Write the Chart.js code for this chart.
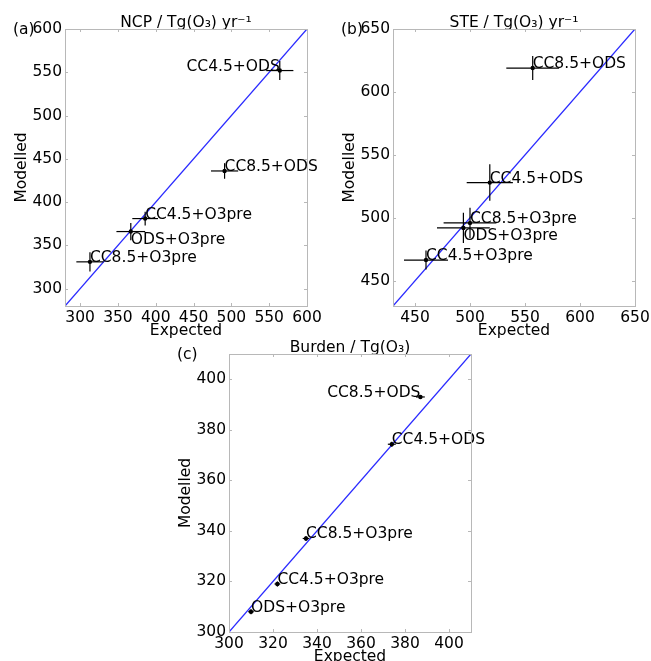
<!DOCTYPE html>
<html>
<head>
<meta charset="utf-8">
<script src="https://cdn.jsdelivr.net/npm/chart.js@4.4.1/dist/chart.umd.min.js"></script>
<style>
  body { margin: 0; background: #fff; overflow: hidden; }
  canvas { position: absolute; }
</style>
</head>
<body>
<canvas id="ncp" width="325" height="340" style="left:0;top:0"></canvas>
<canvas id="ste" width="325" height="340" style="left:328px;top:0"></canvas>
<canvas id="burden" width="325" height="341" style="left:164px;top:325px"></canvas>
<script>
const runs = ['CC4.5+ODS', 'CC8.5+ODS', 'CC4.5+O3pre', 'CC8.5+O3pre', 'ODS+O3pre'];

// (a) NCP
const ncpExpected = [564, 491, 386, 313, 367];
const ncpModelled = [552, 436, 381, 331, 366];
const ncpExpectedErr = [18, 18, 17, 18, 19];
const ncpModelledErr = [11, 9, 8, 11, 10];
const ncpTicks = [300, 350, 400, 450, 500, 550, 600];
const ncpRange = [280, 600];

// (b) STE
const steExpected = [518, 557, 460, 500, 494];
const steModelled = [528, 619, 466.5, 496, 492];
const steExpectedErr = [21, 24, 20, 24, 24];
const steModelledErr = [14.5, 9.5, 7.5, 12, 12];
const steTicks = [450, 500, 550, 600, 650];
const steRange = [430, 650];

// (c) Burden
const burdenExpected = [374, 387, 322, 335, 310];
const burdenModelled = [374.3, 393, 319, 337, 308];
const burdenExpectedErr = [1.8, 2, 1.3, 1.5, 1.3];
const burdenModelledErr = [1, 0.8, 1, 1, 1];
const burdenTicks = [300, 320, 340, 360, 380, 400];
const burdenRange = [300, 410];

// label side for each run: 'ne' right of point above it, 'nw' left of it, 'se' right and below
const ncpPlace = ['nw', 'ne', 'ne', 'ne', 'se'];
const stePlace = ['ne', 'ne', 'ne', 'ne', 'se'];
const burdenPlace = ['ne', 'nw', 'ne', 'ne', 'ne'];

Chart.defaults.font.family = '"DejaVu Sans", sans-serif';
Chart.defaults.font.size = 15.5;
Chart.defaults.color = '#000';

const FONT = '15.5px "DejaVu Sans"';
const SPINE = '#b8b8b8';

function errBar(points) {
  return { data: points, showLine: true, borderColor: '#000', borderWidth: 1.2, pointRadius: 0 };
}

function panel(id, tag, title, ex, mo, exErr, moErr, ticks, range, place) {
  const datasets = [{
    data: ex.map((x, i) => ({ x, y: mo[i] })),
    pointRadius: 2.2, pointBackgroundColor: '#000', pointBorderWidth: 0, showLine: false
  }];
  ex.forEach((x, i) => {
    datasets.push(errBar([{ x: x - exErr[i], y: mo[i] }, { x: x + exErr[i], y: mo[i] }]));
    datasets.push(errBar([{ x, y: mo[i] - moErr[i] }, { x, y: mo[i] + moErr[i] }]));
  });
  // 1:1 line
  datasets.push({
    data: [{ x: range[0], y: range[0] }, { x: range[1], y: range[1] }],
    showLine: true, borderColor: '#2a2aff', borderWidth: 1.3, pointRadius: 0
  });

  const setTicks = s => { s.ticks = ticks.map(v => ({ value: v })); };

  const frame = {
    id: 'frame',
    afterDatasetsDraw(chart) {
      const { ctx, scales } = chart;
      ctx.save();
      ctx.font = FONT;
      ctx.fillStyle = '#000';
      runs.forEach((name, i) => {
        const px = scales.x.getPixelForValue(ex[i]);
        const py = scales.y.getPixelForValue(mo[i]);
        const p = place[i];
        ctx.textAlign = p === 'nw' ? 'right' : 'left';
        ctx.textBaseline = 'alphabetic';
        ctx.fillText(name, px, p === 'se' ? py + 12.5 : py);
      });
      ctx.restore();
    },
    afterDraw(chart) {
      const { ctx, chartArea: a, scales } = chart;
      ctx.save();
      ctx.strokeStyle = SPINE;
      ctx.lineWidth = 1;
      ctx.strokeRect(a.left + 0.5, a.top + 0.5, a.right - a.left, a.bottom - a.top);
      ctx.beginPath();
      ticks.forEach(v => {
        const x = Math.round(scales.x.getPixelForValue(v)) + 0.5;
        const y = Math.round(scales.y.getPixelForValue(v)) + 0.5;
        ctx.moveTo(x, a.bottom); ctx.lineTo(x, a.bottom - 3);
        ctx.moveTo(x, a.top); ctx.lineTo(x, a.top + 3);
        ctx.moveTo(a.left, y); ctx.lineTo(a.left + 3, y);
        ctx.moveTo(a.right, y); ctx.lineTo(a.right - 3, y);
      });
      ctx.stroke();
      ctx.font = FONT;
      ctx.fillStyle = '#000';
      ctx.textAlign = 'left';
      ctx.textBaseline = 'middle';
      ctx.fillText(tag, a.left - 52, a.top + 1);
      ctx.restore();
    }
  };

  return new Chart(document.getElementById(id), {
    type: 'scatter',
    data: { datasets },
    plugins: [frame],
    options: {
      responsive: false,
      animation: false,
      events: [],
      layout: { padding: { left: 0, top: 0, right: 18, bottom: 0 } },
      plugins: { legend: { display: false }, tooltip: { enabled: false } },
      scales: {
        x: {
          type: 'linear', position: 'bottom', min: range[0], max: range[1],
          afterBuildTicks: setTicks,
          afterFit: s => { s.height = 34; },
          grid: { display: false, drawTicks: false },
          border: { display: false },
          ticks: { padding: 3, maxRotation: 0, autoSkip: false },
          title: { display: true, text: 'Expected', padding: { top: 0, bottom: 0 } }
        },
        top: {
          type: 'linear', position: 'top', min: range[0], max: range[1],
          afterFit: s => { s.height = 29; },
          grid: { display: false, drawTicks: false },
          border: { display: false },
          ticks: { display: false },
          title: { display: true, text: title, padding: { top: 13.5, bottom: 0 } }
        },
        y: {
          type: 'linear', position: 'left', min: range[0], max: range[1],
          afterBuildTicks: setTicks,
          afterFit: s => { s.width = 65; },
          grid: { display: false, drawTicks: false },
          border: { display: false },
          ticks: { padding: 3, autoSkip: false },
          title: { display: true, text: 'Modelled', padding: { top: 12.5, bottom: 0 } }
        }
      }
    }
  });
}

panel('ncp', '(a)', 'NCP / Tg(O\u2083) yr\u207B\u00B9',
  ncpExpected, ncpModelled, ncpExpectedErr, ncpModelledErr, ncpTicks, ncpRange, ncpPlace);
panel('ste', '(b)', 'STE / Tg(O\u2083) yr\u207B\u00B9',
  steExpected, steModelled, steExpectedErr, steModelledErr, steTicks, steRange, stePlace);
panel('burden', '(c)', 'Burden / Tg(O\u2083)',
  burdenExpected, burdenModelled, burdenExpectedErr, burdenModelledErr, burdenTicks, burdenRange, burdenPlace);
</script>
</body>
</html>
